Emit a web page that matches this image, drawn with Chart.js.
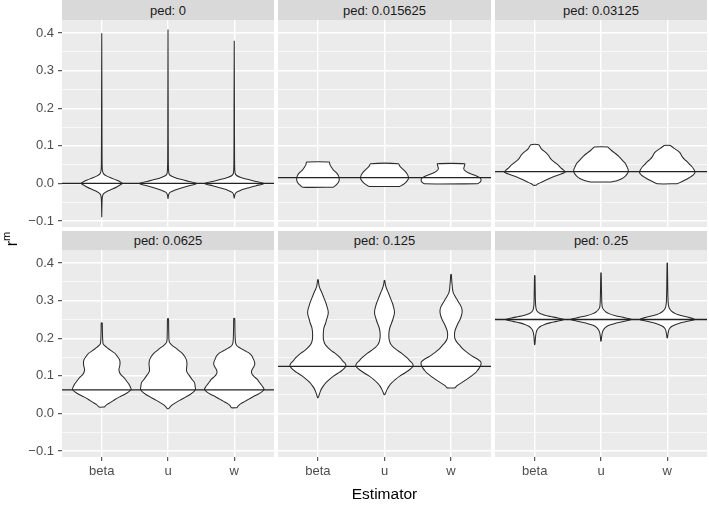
<!DOCTYPE html>
<html><head><meta charset="utf-8">
<script src="https://cdn.jsdelivr.net/npm/chart.js@4.4.1/dist/chart.umd.min.js"></script>
<style>
html,body{margin:0;padding:0;background:#fff;}
#wrap{position:relative;width:709px;height:505px;overflow:hidden;font-family:"Liberation Sans",Arial,sans-serif;background:#fff;}
#wrap canvas{position:absolute;}
.strip{position:absolute;background:#D9D9D9;color:#1A1A1A;font-size:13px;text-align:center;}
.xtitle{position:absolute;left:62px;width:645px;top:485px;text-align:center;font-size:15.5px;color:#000;}
.ytitle{position:absolute;left:-4px;top:229px;width:32px;height:20px;line-height:20px;text-align:center;font-size:16px;color:#000;transform:rotate(-90deg);}
.ytitle sup{font-size:11px;position:relative;top:-1px;vertical-align:super;line-height:0;}
</style></head><body><div id="wrap"></div>
<script>
// ---------- data ----------
const categories = ['beta', 'u', 'w'];
const pedLabels = ['0', '0.015625', '0.03125', '0.0625', '0.125', '0.25'];
const pedValues = [0, 0.015625, 0.03125, 0.0625, 0.125, 0.25];
const yMajorTicks = [-0.1, 0, 0.1, 0.2, 0.3, 0.4];
const yMinorTicks = [-0.05, 0.05, 0.15, 0.25, 0.35];
const yRange = [-0.116, 0.435];
const xRange = [0.4, 3.6];

// violin profiles: [value, half-width (category units)]
const ped0_beta = [[-0.09,0],[-0.05,0.004],[-0.035,0.01],[-0.028,0.025],[-0.022,0.07],[-0.015,0.16],[-0.008,0.24],[-0.003,0.29],[0,0.31],[0.004,0.28],[0.009,0.22],[0.014,0.15],[0.02,0.07],[0.026,0.025],[0.035,0.01],[0.06,0.005],[0.2,0.003],[0.4,0]];
const ped0_u = [[-0.041,0],[-0.03,0.01],[-0.024,0.03],[-0.018,0.1],[-0.012,0.2],[-0.006,0.32],[0,0.435],[0.006,0.3],[0.011,0.19],[0.016,0.1],[0.021,0.035],[0.028,0.012],[0.06,0.005],[0.2,0.003],[0.41,0]];
const ped0_w = [[-0.04,0],[-0.03,0.01],[-0.024,0.03],[-0.018,0.1],[-0.012,0.21],[-0.006,0.33],[0,0.45],[0.006,0.31],[0.011,0.2],[0.016,0.1],[0.021,0.035],[0.028,0.012],[0.06,0.005],[0.2,0.003],[0.38,0]];

const ped1_beta = [[-0.01,0.23],[-0.003,0.28],[0.004,0.31],[0.012,0.32],[0.02,0.31],[0.028,0.28],[0.036,0.23],[0.044,0.2],[0.05,0.18],[0.057,0.17]];
const ped1_u = [[-0.008,0.23],[-0.002,0.29],[0.005,0.33],[0.013,0.36],[0.022,0.35],[0.03,0.32],[0.039,0.27],[0.046,0.23],[0.0525,0.21]];
const ped1_w = [[-0.001,0.40],[0.004,0.44],[0.009,0.45],[0.014,0.44],[0.019,0.39],[0.024,0.32],[0.029,0.25],[0.034,0.21],[0.039,0.19],[0.046,0.2],[0.0525,0.205]];

const ped2_beta = [[-0.005,0.02],[-0.001,0.05],[0.004,0.11],[0.009,0.17],[0.014,0.23],[0.019,0.3],[0.024,0.38],[0.03,0.46],[0.036,0.43],[0.042,0.39],[0.048,0.36],[0.055,0.31],[0.062,0.26],[0.068,0.23],[0.074,0.21],[0.08,0.18],[0.086,0.14],[0.092,0.1],[0.098,0.08],[0.103,0.06]];
const ped2_u = [[0.004,0.16],[0.008,0.25],[0.013,0.32],[0.018,0.36],[0.024,0.39],[0.03,0.41],[0.037,0.41],[0.045,0.39],[0.0525,0.37],[0.06,0.33],[0.068,0.29],[0.075,0.25],[0.082,0.2],[0.089,0.15],[0.094,0.12],[0.097,0.1]];
const ped2_w = [[-0.001,0.15],[0.004,0.21],[0.009,0.27],[0.015,0.33],[0.022,0.39],[0.03,0.42],[0.038,0.4],[0.045,0.37],[0.052,0.33],[0.058,0.3],[0.064,0.26],[0.07,0.23],[0.076,0.21],[0.082,0.19],[0.088,0.15],[0.094,0.1],[0.099,0.06],[0.101,0.05]];

const ped3_beta = [[0.017,0.04],[0.024,0.08],[0.03,0.14],[0.037,0.2],[0.044,0.27],[0.051,0.35],[0.058,0.41],[0.064,0.445],[0.071,0.43],[0.078,0.41],[0.085,0.38],[0.091,0.355],[0.098,0.32],[0.104,0.285],[0.111,0.265],[0.118,0.26],[0.125,0.27],[0.131,0.275],[0.138,0.275],[0.144,0.265],[0.152,0.235],[0.16,0.2],[0.167,0.14],[0.175,0.08],[0.181,0.04],[0.186,0.02],[0.2,0.013],[0.22,0.01],[0.241,0.007]];
const ped3_u = [[0.0125,0.01],[0.018,0.035],[0.024,0.075],[0.03,0.13],[0.037,0.2],[0.044,0.27],[0.051,0.34],[0.058,0.39],[0.064,0.415],[0.072,0.41],[0.082,0.4],[0.091,0.36],[0.1,0.325],[0.107,0.295],[0.113,0.28],[0.12,0.28],[0.128,0.285],[0.136,0.285],[0.144,0.275],[0.152,0.25],[0.16,0.215],[0.168,0.16],[0.175,0.11],[0.18,0.07],[0.185,0.04],[0.19,0.02],[0.2,0.013],[0.225,0.01],[0.252,0.007]];
const ped3_w = [[0.015,0.04],[0.02,0.06],[0.026,0.1],[0.032,0.16],[0.038,0.22],[0.045,0.29],[0.051,0.36],[0.058,0.42],[0.064,0.45],[0.071,0.43],[0.078,0.4],[0.085,0.37],[0.091,0.345],[0.098,0.3],[0.104,0.27],[0.11,0.26],[0.117,0.27],[0.124,0.295],[0.131,0.31],[0.138,0.305],[0.144,0.29],[0.152,0.27],[0.16,0.23],[0.166,0.17],[0.171,0.12],[0.177,0.06],[0.183,0.03],[0.19,0.018],[0.21,0.012],[0.23,0.01],[0.253,0.007]];

const ped4_beta = [[0.042,0.005],[0.05,0.02],[0.058,0.035],[0.066,0.055],[0.074,0.085],[0.082,0.12],[0.09,0.17],[0.1,0.24],[0.107,0.3],[0.113,0.35],[0.12,0.395],[0.126,0.42],[0.133,0.41],[0.14,0.37],[0.147,0.34],[0.154,0.3],[0.161,0.25],[0.167,0.2],[0.175,0.15],[0.184,0.107],[0.195,0.085],[0.206,0.08],[0.217,0.082],[0.228,0.09],[0.24,0.115],[0.25,0.13],[0.26,0.148],[0.268,0.155],[0.276,0.15],[0.285,0.135],[0.294,0.12],[0.303,0.1],[0.312,0.08],[0.322,0.058],[0.33,0.036],[0.339,0.018],[0.348,0.01],[0.356,0.004]];
const ped4_u = [[0.05,0.005],[0.056,0.02],[0.064,0.04],[0.072,0.065],[0.08,0.1],[0.09,0.16],[0.1,0.235],[0.107,0.3],[0.113,0.35],[0.12,0.4],[0.126,0.43],[0.133,0.42],[0.14,0.38],[0.147,0.345],[0.154,0.3],[0.161,0.25],[0.167,0.2],[0.175,0.14],[0.184,0.095],[0.195,0.072],[0.206,0.065],[0.217,0.068],[0.228,0.08],[0.24,0.105],[0.25,0.125],[0.26,0.142],[0.268,0.15],[0.276,0.146],[0.285,0.133],[0.294,0.118],[0.303,0.098],[0.312,0.078],[0.322,0.056],[0.33,0.036],[0.338,0.02],[0.346,0.01],[0.354,0.004]];
const ped4_w = [[0.068,0.06],[0.074,0.09],[0.082,0.16],[0.09,0.23],[0.1,0.31],[0.107,0.36],[0.113,0.39],[0.12,0.42],[0.128,0.445],[0.136,0.45],[0.143,0.41],[0.15,0.34],[0.157,0.28],[0.163,0.235],[0.171,0.18],[0.18,0.135],[0.189,0.09],[0.198,0.06],[0.206,0.052],[0.214,0.053],[0.222,0.062],[0.23,0.08],[0.24,0.105],[0.25,0.135],[0.26,0.155],[0.268,0.165],[0.276,0.165],[0.285,0.15],[0.294,0.12],[0.303,0.09],[0.312,0.06],[0.321,0.034],[0.33,0.022],[0.339,0.018],[0.35,0.012],[0.36,0.008],[0.37,0.004]];

const ped5_beta = [[0.183,0.003],[0.2,0.01],[0.212,0.018],[0.22,0.03],[0.226,0.05],[0.232,0.09],[0.237,0.15],[0.241,0.23],[0.245,0.33],[0.25,0.44],[0.254,0.35],[0.258,0.24],[0.262,0.14],[0.266,0.08],[0.27,0.045],[0.276,0.025],[0.285,0.015],[0.3,0.01],[0.33,0.007],[0.367,0.003]];
const ped5_u = [[0.192,0.003],[0.205,0.01],[0.215,0.02],[0.222,0.035],[0.228,0.06],[0.234,0.11],[0.239,0.2],[0.244,0.32],[0.25,0.46],[0.255,0.35],[0.26,0.22],[0.265,0.13],[0.27,0.075],[0.276,0.04],[0.282,0.02],[0.295,0.012],[0.33,0.007],[0.374,0.003]];
const ped5_w = [[0.201,0.003],[0.212,0.012],[0.22,0.02],[0.226,0.035],[0.232,0.07],[0.237,0.13],[0.242,0.22],[0.246,0.32],[0.25,0.415],[0.255,0.34],[0.26,0.22],[0.265,0.13],[0.27,0.08],[0.276,0.045],[0.283,0.025],[0.295,0.014],[0.33,0.008],[0.4,0.003]];

const panelViolins = [
  [ped0_beta, ped0_u, ped0_w],
  [ped1_beta, ped1_u, ped1_w],
  [ped2_beta, ped2_u, ped2_w],
  [ped3_beta, ped3_u, ped3_w],
  [ped4_beta, ped4_u, ped4_w],
  [ped5_beta, ped5_u, ped5_w]
];

// ---------- layout ----------
const colLeft = [62, 278, 495];
const colWidth = [212, 213, 212];
const stripTop = [0, 231];
const stripH = [20, 19];
const plotTop = [20, 250];
const plotH = 207;
const PAD = 10;
const XAXIS_H = 30;
const YAXIS_W = 62;

const wrap = document.getElementById('wrap');

const bgPlugin = {
  id: 'panelBg',
  beforeDraw(chart) {
    const a = chart.chartArea, c = chart.ctx;
    c.save(); c.fillStyle = '#EBEBEB';
    c.fillRect(a.left, a.top, a.right - a.left, a.bottom - a.top);
    c.restore();
  }
};

function violinPoints(profile, center) {
  const right = profile.map(p => ({x: center + p[1], y: p[0]}));
  const left = profile.slice().reverse().map(p => ({x: center - p[1], y: p[0]}));
  const pts = right.concat(left);
  pts.push({x: pts[0].x, y: pts[0].y});
  return pts;
}

const isMajor = v => yMajorTicks.some(t => Math.abs(t - v) < 1e-9);
const fmt = v => (Math.abs(v) < 1e-9 ? 0 : v).toFixed(1).replace('-', '\u2212');

for (let i = 0; i < 6; i++) {
  const row = Math.floor(i / 3), col = i % 3;
  const s = document.createElement('div');
  s.className = 'strip';
  s.style.left = colLeft[col] + 'px';
  s.style.width = colWidth[col] + 'px';
  s.style.top = stripTop[row] + 'px';
  s.style.height = stripH[row] + 'px';
  s.style.lineHeight = (stripH[row] + 1) + 'px';
  s.textContent = 'ped: ' + pedLabels[i];
  wrap.appendChild(s);

  const cv = document.createElement('canvas');
  const left = col === 0 ? 0 : colLeft[col];
  const w = col === 0 ? colLeft[0] + colWidth[0] : colWidth[col];
  const h = PAD + plotH + (row === 1 ? XAXIS_H : PAD);
  cv.width = w; cv.height = h;
  cv.style.left = left + 'px';
  cv.style.top = (plotTop[row] - PAD) + 'px';
  cv.style.width = w + 'px'; cv.style.height = h + 'px';
  wrap.appendChild(cv);

  const datasets = [{
    data: [{x: xRange[0], y: pedValues[i]}, {x: xRange[1], y: pedValues[i]}],
    showLine: true, borderColor: '#222222', borderWidth: 1.3, pointRadius: 0, fill: false
  }];
  panelViolins[i].forEach((prof, k) => {
    datasets.push({
      data: violinPoints(prof, k + 1),
      showLine: true, fill: 'shape', backgroundColor: '#FFFFFF',
      borderColor: '#2b2b2b', borderWidth: 1.05, pointRadius: 0, tension: 0.2
    });
  });

  new Chart(cv, {
    type: 'scatter',
    data: {datasets},
    plugins: [bgPlugin],
    options: {
      responsive: false, animation: false, devicePixelRatio: 1, events: [],
      layout: {padding: {top: PAD, bottom: row === 1 ? 0 : PAD, left: 0, right: 0}},
      plugins: {legend: {display: false}, tooltip: {enabled: false}},
      scales: {
        x: {
          type: 'linear', min: xRange[0], max: xRange[1],
          afterBuildTicks: sc => { sc.ticks = categories.map((c, k) => ({value: k + 1})); },
          afterFit: sc => { sc.height = row === 1 ? XAXIS_H : 0; sc.paddingLeft = 0; sc.paddingRight = 0; },
          border: {display: false},
          grid: {color: '#FFFFFF', lineWidth: 1.4, drawTicks: row === 1, tickLength: 4, tickColor: '#333333', tickWidth: 1},
          ticks: {display: row === 1, autoSkip: false, maxRotation: 0, padding: 3, color: '#4D4D4D',
                  font: {family: '"Liberation Sans", Arial, sans-serif', size: 13},
                  callback: v => categories[Math.round(v) - 1]}
        },
        y: {
          type: 'linear', min: yRange[0], max: yRange[1],
          afterBuildTicks: sc => { sc.ticks = yMajorTicks.concat(yMinorTicks).sort((a, b) => a - b).map(v => ({value: v})); },
          afterFit: sc => { sc.width = col === 0 ? YAXIS_W : 0; sc.paddingTop = 0; sc.paddingBottom = 0; },
          border: {display: false},
          grid: {
            color: '#FFFFFF',
            lineWidth: c => isMajor(c.tick.value) ? 1.4 : 0.7,
            drawTicks: col === 0, tickLength: 4, tickWidth: 1,
            tickColor: c => isMajor(c.tick.value) ? '#333333' : 'rgba(0,0,0,0)'
          },
          ticks: {display: col === 0, autoSkip: false, padding: 4, color: '#4D4D4D',
                  font: {family: '"Liberation Sans", Arial, sans-serif', size: 13},
                  callback: v => isMajor(v) ? fmt(v) : ''}
        }
      }
    }
  });
}

const xt = document.createElement('div');
xt.className = 'xtitle'; xt.textContent = 'Estimator';
wrap.appendChild(xt);
const yt = document.createElement('div');
yt.className = 'ytitle'; yt.innerHTML = 'r<sup>m</sup>';
wrap.appendChild(yt);
</script></body></html>
